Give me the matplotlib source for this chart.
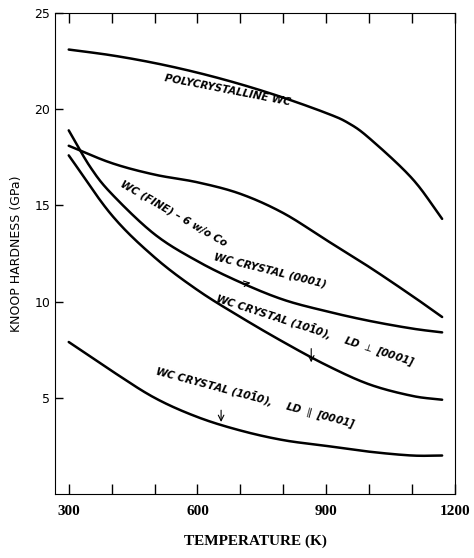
import matplotlib
matplotlib.use("Agg")
import matplotlib.pyplot as plt
import numpy as np
from matplotlib.ticker import FixedLocator

T = [300, 400, 500, 600, 700, 800, 900, 950, 1000, 1100, 1170]
poly = [23.1, 22.8, 22.4, 21.9, 21.3, 20.6, 19.8, 19.3, 18.5, 16.4, 14.3]
T2 = [300, 400, 500, 600, 700, 800, 900, 1000, 1100, 1170]
fine = [18.1, 17.2, 16.6, 16.2, 15.6, 14.6, 13.2, 11.8, 10.3, 9.2]
T3 = [300, 350, 400, 500, 600, 700, 800, 900, 1000, 1100, 1170]
c0001 = [18.9, 17.0, 15.6, 13.5, 12.1, 11.0, 10.1, 9.5, 9.0, 8.6, 8.4]
perp = [17.6, 14.5, 12.3, 10.6, 9.2, 7.9, 6.7, 5.7, 5.1, 4.9]
par = [7.9, 6.4, 5.0, 4.0, 3.3, 2.8, 2.5, 2.2, 2.0, 2.0]

def catmull(x, y, n=30):
    x = np.asarray(x, float); y = np.asarray(y, float)
    P = np.column_stack([x, y])
    P = np.vstack([2*P[0]-P[1], P, 2*P[-1]-P[-2]])
    out = []
    for i in range(1, len(P)-2):
        p0, p1, p2, p3 = P[i-1], P[i], P[i+1], P[i+2]
        t = np.linspace(0, 1, n, endpoint=False)[:, None]
        out.append(0.5*((2*p1) + (-p0+p2)*t + (2*p0-5*p1+4*p2-p3)*t**2 + (-p0+3*p1-3*p2+p3)*t**3))
    out.append(P[-2][None, :])
    o = np.vstack(out)
    return o[:, 0], o[:, 1]

fig = plt.figure(figsize=(4.74, 5.58), dpi=100)
ax = fig.add_axes([55/474, 1-494/558, 400/474, 481/558])
for x, y in [(T, poly), (T2, fine), (T3, c0001), (T2, perp), (T2, par)]:
    xs, ys = catmull(x, y)
    ax.plot(xs, ys, color='black', lw=1.8, solid_capstyle='round')

ax.set_xlim(268, 1200)
ax.set_ylim(0, 25)
ax.xaxis.set_major_locator(FixedLocator([300, 600, 900, 1200]))
ax.xaxis.set_minor_locator(FixedLocator([400, 500, 700, 800, 1000, 1100]))
ax.yaxis.set_major_locator(FixedLocator([5, 10, 15, 20, 25]))
ax.tick_params(which='both', direction='in', top=True, length=7, width=1)
ax.tick_params(axis='x', labelsize=11, pad=8)
ax.tick_params(axis='y', labelsize=9, length=6)
for l in ax.get_xticklabels():
    l.set_fontfamily('Liberation Serif'); l.set_fontweight('bold')
ax.set_xlabel('TEMPERATURE (K)', fontfamily='Liberation Serif', fontweight='bold', fontsize=11, labelpad=12)
ax.set_ylabel('KNOOP HARDNESS (GPa)', fontsize=9, labelpad=8)

kw = dict(fontsize=7.5, fontweight='bold', style='italic', ha='center', va='center')
ax.text(669, 21.0, 'POLYCRYSTALLINE WC', rotation=-11, **kw)
ax.text(545, 14.6, 'WC (FINE) – 6 w/o Co', rotation=-30, **kw)
ax.text(770, 11.6, 'WC CRYSTAL (0001)', rotation=-14, **kw)
ax.annotate('', xy=(730, 11.0), xytext=(700, 10.9),
            arrowprops=dict(arrowstyle='->', lw=0.8))
ax.text(875, 8.5, r'WC CRYSTAL (10$\mathbf{\bar{1}}$0),    LD $\perp$ [0001]', rotation=-18, **kw)
ax.annotate('', xy=(865, 6.7), xytext=(865, 7.7),
            arrowprops=dict(arrowstyle='->', lw=0.8))
ax.text(735, 5.0, r'WC CRYSTAL (10$\mathbf{\bar{1}}$0),    LD $\parallel$ [0001]', rotation=-15, **kw)
ax.annotate('', xy=(655, 3.6), xytext=(655, 4.5),
            arrowprops=dict(arrowstyle='->', lw=0.8))

fig.savefig('out.png', dpi=100)
